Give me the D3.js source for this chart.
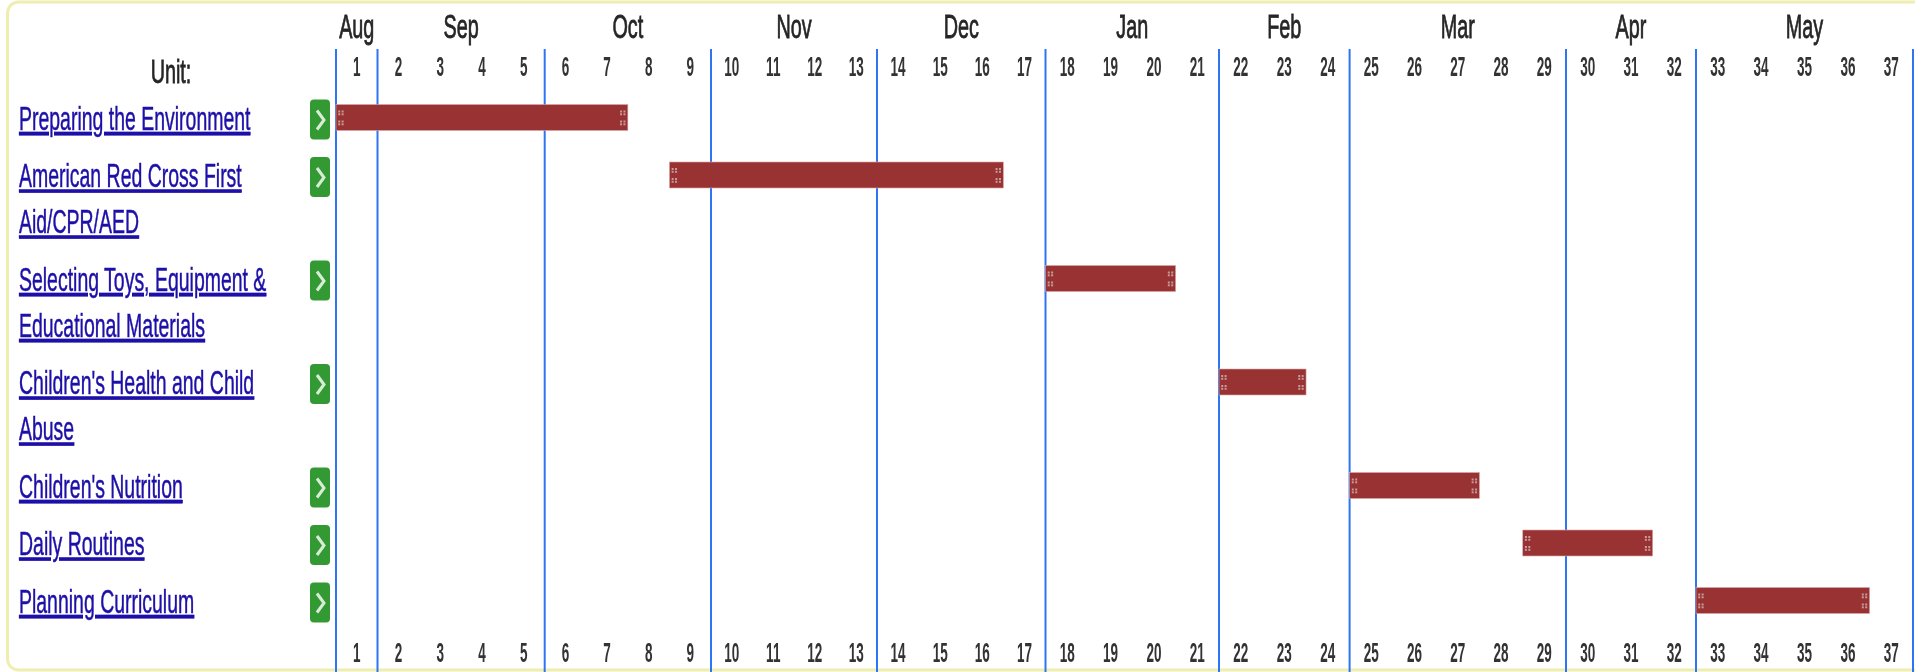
<!DOCTYPE html>
<html><head><meta charset="utf-8">
<script src="https://cdn.jsdelivr.net/npm/d3@7"></script>
<style>
html,body{margin:0;padding:0;background:#fff;overflow:hidden}
svg{display:block;filter:blur(0.55px)}
text{font-family:"Liberation Sans",Arial,sans-serif}
</style></head><body>
<svg id="c" width="1915" height="672"></svg>
<script>
const months = ["Aug","Sep","Oct","Nov","Dec","Jan","Feb","Mar","Apr","May"];
const monthStartWeeks = [0,1,5,9,13,17,21,24,29,32,37];
const monthEdgesPx = [336,377.5,544.7,711,877,1045.5,1219,1349.6,1566,1696,1913];
const weeks = d3.range(1,38);
const unitLabels = [
  ["Preparing the Environment"],
  ["American Red Cross First","Aid/CPR/AED"],
  ["Selecting Toys, Equipment &","Educational Materials"],
  ["Children's Health and Child","Abuse"],
  ["Children's Nutrition"],
  ["Daily Routines"],
  ["Planning Curriculum"]
];
const barStartWeek = [0,8,17,21,24,28,32];
const barEndWeek = [7,16,20,23,27,31,36];

const svg = d3.select("#c");
const x = d3.scaleLinear().domain(monthStartWeeks).range(monthEdgesPx);
const lineH = 46, rowPad = 11.5, firstRow = 104.5;
const rowTop = [];
unitLabels.reduce((acc,l,i)=>{rowTop[i]=acc;return acc+l.length*lineH+rowPad;},firstRow);

const SX = 0.6, FS = 33;
function squeezed(sel,px,py,sx){return sel.attr("transform",(d,i)=>`translate(${px(d,i)},${py(d,i)}) scale(${sx},1)`);}

// frame
svg.append("rect").attr("x",7.5).attr("y",2).attr("width",1940).attr("height",668).attr("rx",11)
  .attr("fill","#fff").attr("stroke","#eeeeb0").attr("stroke-width",3);

// month grid
svg.append("g").selectAll("line").data(monthStartWeeks).join("line")
  .attr("x1",d=>x(d)).attr("x2",d=>x(d)).attr("y1",49).attr("y2",672)
  .attr("stroke","#2f74f2").attr("stroke-width",2);

// month labels
squeezed(svg.append("g").selectAll("text").data(months).join("text"),
  (d,i)=>(x(monthStartWeeks[i])+x(monthStartWeeks[i+1]))/2,()=>38,SX)
  .attr("text-anchor","middle").attr("font-size",FS).attr("fill","#262626")
  .attr("stroke","#262626").attr("stroke-width",0.8).text(d=>d);

// week labels, top and bottom
[76,662].forEach(by=>{
  squeezed(svg.append("g").selectAll("text").data(weeks).join("text"),
    d=>x(d-0.5),()=>by,0.5)
    .attr("text-anchor","middle").attr("font-size",27).attr("font-weight","bold").attr("fill","#333").text(d=>d);
});

// Unit header
squeezed(svg.append("g").selectAll("text").data(["Unit:"]).join("text"),()=>171,()=>83,SX)
  .attr("text-anchor","middle").attr("font-size",FS).attr("fill","#262626")
  .attr("stroke","#262626").attr("stroke-width",0.8).text(d=>d);

// row labels
const rows = svg.append("g").selectAll("g").data(unitLabels).join("g");
rows.each(function(lines,r){
  squeezed(d3.select(this).selectAll("text").data(lines).join("text"),
    ()=>19,(d,i)=>rowTop[r]+25+i*lineH,0.59)
    .attr("font-size",FS).attr("fill","#1d10a8").attr("stroke","#1d10a8").attr("stroke-width",0.5)
    .attr("text-decoration","underline").text(d=>d);
});

// green buttons
const btn = svg.append("g").selectAll("g").data(unitLabels).join("g")
  .attr("transform",(d,i)=>`translate(310,${rowTop[i]-5})`);
btn.append("rect").attr("width",20).attr("height",40).attr("rx",4).attr("fill","#339933");
btn.append("path").attr("d","M7,11 L14,20.5 L7,30").attr("fill","none").attr("stroke","#d8ecd8").attr("stroke-width",3);

// bars
const bars = svg.append("g").selectAll("g").data(barStartWeek).join("g");
bars.append("rect")
  .attr("x",d=>x(d)).attr("width",(d,i)=>x(barEndWeek[i])-x(d))
  .attr("y",(d,i)=>rowTop[i]).attr("height",26)
  .attr("fill","#993333").attr("stroke","#d9a9a9").attr("stroke-width",0.6);
bars.each(function(d,i){
  const g=d3.select(this);
  [x(d)+2.2, x(barEndWeek[i])-7.8].forEach(hx=>{
    [6,16].forEach(oy=>[0,3.4].forEach(ox=>[0,2.8].forEach(py=>{
      g.append("rect").attr("x",hx+ox).attr("y",rowTop[i]+oy+py).attr("width",2).attr("height",2).attr("fill","#c79a9a");
    })));
  });
});
</script></body></html>
